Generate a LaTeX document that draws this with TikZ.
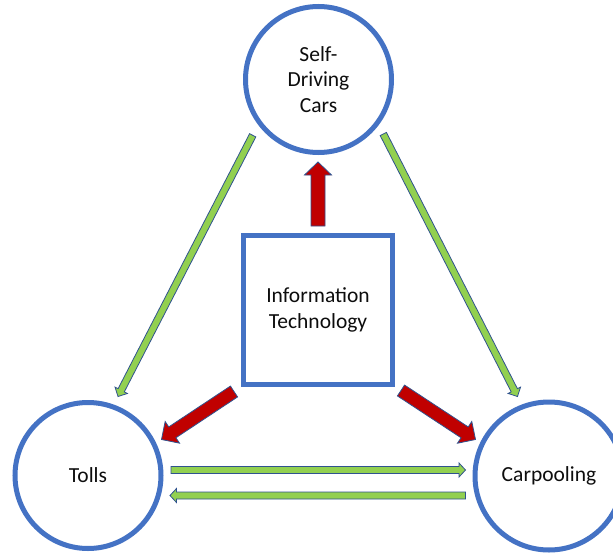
\documentclass[tikz,border=0pt]{standalone}
\usepackage{fontspec}
\setmainfont{Carlito}
\usetikzlibrary{calc}
\definecolor{cblue}{HTML}{4472C4}
\definecolor{cgreen}{HTML}{92D050}
\definecolor{cred}{HTML}{C00000}
\definecolor{cedge}{HTML}{2F528F}
\definecolor{ctext}{HTML}{0D0D0D}
\tikzset{
  roundnode/.style={circle, draw=cblue, line width=5pt, fill=white, inner sep=0pt,
    minimum size=146pt, align=center, text=ctext,
    font=\fontsize{21.5}{25.5}\selectfont},
  boxnode/.style={rectangle, draw=cblue, line width=4.5pt, fill=white, inner sep=0pt,
    minimum width=149pt, minimum height=149pt, align=center, text=ctext,
    font=\fontsize{21.5}{26}\selectfont},
  greenarr/.style={fill=cgreen, draw=cedge, line width=0.8pt, line join=miter},
  redarr/.style={fill=cred, draw=cedge, line width=0.8pt, line join=miter},
}
% #1 style, #2 base coordinate, #3 tip coordinate,
% #4 shaft half width, #5 head half width, #6 head length
\newcommand\blockarr[6]{%
  \coordinate (bhd) at ($(#3)!#6!(#2)$);
  \draw[#1] ($(#2)!#4!90:(#3)$) -- ($(bhd)!#4!90:(#3)$) -- ($(bhd)!#5!90:(#3)$)
    -- (#3) -- ($(bhd)!#5!-90:(#3)$) -- ($(bhd)!#4!-90:(#3)$)
    -- ($(#2)!#4!-90:(#3)$) -- cycle;
}
\begin{document}
\begin{tikzpicture}[x=1pt, y=-1pt]
\useasboundingbox (0,0) rectangle (613,554);
\begin{scope}
\clip (0,0) rectangle (613,554);
\node[roundnode] (sdc) at (318.5,79.5) {Self-\\Driving\\Cars};
\node[roundnode] (tolls) at (88,475.5) {Tolls};
\node[roundnode, minimum size=148pt] (carp) at (549,476) {Carpooling};
\node[boxnode] (it) at (318,310) {Information\\Technology};

% connector end points
\coordinate (ruB) at (318,226);   \coordinate (ruT) at (318,162);
\coordinate (rlB) at (234,391.5); \coordinate (rlT) at (161.5,439.5);
\coordinate (rrB) at (401,390.5); \coordinate (rrT) at (475.5,439.5);
\coordinate (glB) at (252.7,135.3); \coordinate (glT) at (118,396.5);
\coordinate (grB) at (383.3,134); \coordinate (grT) at (517.5,396.5);
\coordinate (htB) at (171,470);   \coordinate (htT) at (465.5,470);
\coordinate (hbB) at (465.5,495.5); \coordinate (hbT) at (170,495.5);

% red arrows from Information Technology
\blockarr{redarr}{ruB}{ruT}{7pt}{13.5pt}{13pt}
\blockarr{redarr}{rlB}{rlT}{6.5pt}{13pt}{13pt}
\blockarr{redarr}{rrB}{rrT}{6.5pt}{13pt}{13pt}

% green arrows
\blockarr{greenarr}{glB}{glT}{3.5pt}{7pt}{7pt}
\blockarr{greenarr}{grB}{grT}{3.5pt}{7pt}{7pt}
\blockarr{greenarr}{htB}{htT}{3.5pt}{7pt}{6.5pt}
\blockarr{greenarr}{hbB}{hbT}{3.5pt}{7pt}{6.5pt}
\end{scope}
\end{tikzpicture}
\end{document}
